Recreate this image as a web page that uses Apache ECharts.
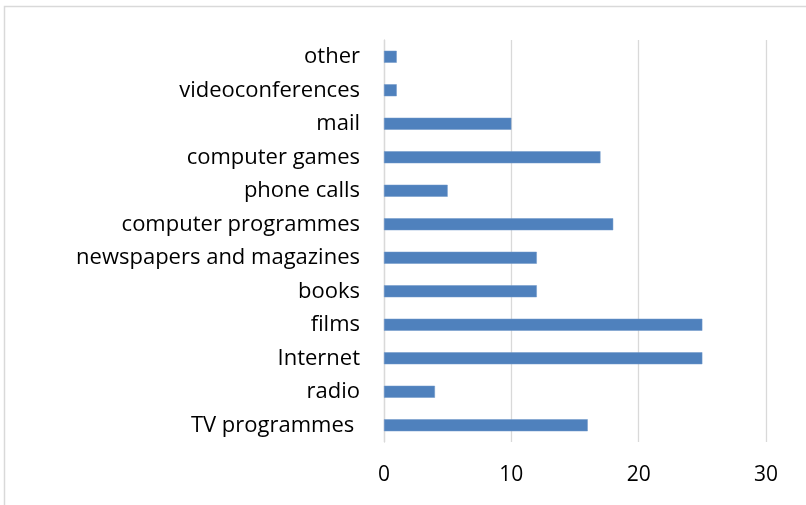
<!DOCTYPE html>
<html>
<head>
<meta charset="utf-8">
<script src="https://cdn.jsdelivr.net/npm/echarts@6/dist/echarts.min.js"></script>
<style>
  html, body { margin: 0; padding: 0; background: #fff; }
  #chart { width: 806px; height: 505px; }
</style>
</head>
<body>
<div id="chart"></div>
<script>
// Categories listed bottom to top, as the category axis draws them
const categories = [
  'TV programmes ', 'radio', 'Internet', 'films', 'books',
  'newspapers and magazines', 'computer programmes', 'phone calls',
  'computer games', 'mail', 'videoconferences', 'other'
];
const values = [16, 4, 25, 25, 12, 12, 18, 5, 17, 10, 1, 1];
const xTicks = [0, 10, 20, 30];

const labelFont = '"Open Sans", sans-serif';

const chart = echarts.init(document.getElementById('chart'), null, { renderer: 'canvas' });
chart.setOption({
  animation: false,
  backgroundColor: '#ffffff',
  graphic: [{
    type: 'rect',
    shape: { x: 4.5, y: 6.5, width: 900, height: 600 },
    style: { fill: 'none', stroke: '#d9d9d9', lineWidth: 1.5 },
    silent: true,
    z: -1
  }],
  grid: { left: 384, right: 40, top: 40, bottom: 63, containLabel: false },
  xAxis: {
    type: 'value',
    min: xTicks[0],
    max: xTicks[xTicks.length - 1],
    interval: xTicks[1] - xTicks[0],
    axisLine: { show: false },
    axisTick: { show: false },
    splitLine: { show: true, lineStyle: { color: '#d9d9d9', width: 1.3 } },
    axisLabel: {
      color: '#000',
      fontFamily: labelFont,
      fontSize: 21,
      margin: 23
    }
  },
  yAxis: {
    type: 'category',
    data: categories,
    axisLine: { show: true, lineStyle: { color: '#d9d9d9', width: 1.3 } },
    axisTick: { show: false },
    splitLine: { show: false },
    axisLabel: {
      color: '#000',
      fontFamily: labelFont,
      fontSize: 22,
      margin: 24
    }
  },
  series: [{
    type: 'bar',
    data: values,
    barWidth: 12,
    itemStyle: { color: '#4f81bd', borderColor: '#6f97c9', borderWidth: 0.5 }
  }]
});
</script>
</body>
</html>
